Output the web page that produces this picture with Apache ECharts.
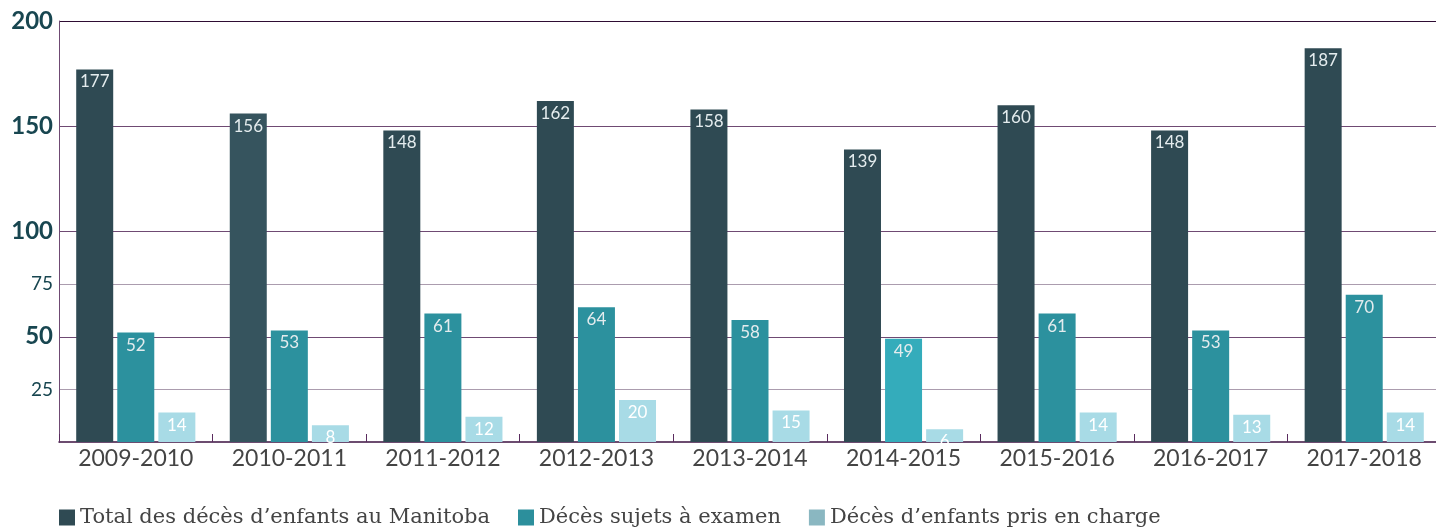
<!DOCTYPE html>
<html>
<head>
<meta charset="utf-8">
<script src="https://cdn.jsdelivr.net/npm/echarts@6/dist/echarts.min.js"></script>
<style>
  html, body { margin: 0; padding: 0; background: #fff; }
  #chart { width: 1436px; height: 529px; }
</style>
</head>
<body>
<div id="chart"></div>
<script>
// données
var years = ['2009-2010', '2010-2011', '2011-2012', '2012-2013', '2013-2014', '2014-2015', '2015-2016', '2016-2017', '2017-2018'];
var seriesNames = ['Total des décès d\u2019enfants au Manitoba', 'Décès sujets à examen', 'Décès d\u2019enfants pris en charge'];
var totalDeces = [177, 156, 148, 162, 158, 139, 160, 148, 187];
var decesExamen = [52, 53, 61, 64, 58, 49, 61, 53, 70];
var decesPrisEnCharge = [14, 8, 12, 20, 15, 6, 14, 13, 14];
var bigTicks = [50, 100, 150, 200];
var smallTicks = [25, 75];

var chart = echarts.init(document.getElementById('chart'));

// quelques barres ont une teinte un peu différente
function withColors(values, overrides) {
  return values.map(function (v, i) {
    return overrides[i] ? { value: v, itemStyle: { color: overrides[i] } } : v;
  });
}

var major = '#6f4a73', minor = '#ab9cae';

var labelStyle = {
  show: true,
  position: 'insideTop',
  distance: 4,
  fontFamily: 'Lato',
  fontSize: 17,
  color: '#e4ecee'
};

var option = {
  animation: false,
  // la zone de tracé déborde un peu à droite de l'image
  grid: { left: 59, width: 1382, top: 21, bottom: 87, containLabel: false, outerBoundsMode: 'none' },
  legend: {
    left: 54,
    bottom: -4,
    icon: 'rect',
    itemWidth: 16,
    itemHeight: 16,
    itemGap: 28,
    textStyle: { fontFamily: 'DejaVu Serif', fontSize: 21, color: '#444' },
    data: [
      { name: seriesNames[0], itemStyle: { color: '#2f4a53' } },
      { name: seriesNames[1], itemStyle: { color: '#2c8f9c' } },
      { name: seriesNames[2], itemStyle: { color: '#8ab7c1' } }
    ]
  },
  xAxis: {
    type: 'category',
    data: years,
    axisLine: { show: true, lineStyle: { color: '#3d1242', width: 1.5 } },
    axisTick: { show: true, inside: true, length: 8, lineStyle: { color: '#5a2c5e' } },
    axisLabel: { fontFamily: 'Lato', fontSize: 23, color: '#444', margin: 5 }
  },
  yAxis: {
    type: 'value',
    min: 0,
    max: 200,
    interval: 25,
    axisLine: { show: true, lineStyle: { color: '#6f4a73' } },
    axisTick: { show: false },
    splitLine: {
      show: true,
      lineStyle: {
        width: 1.2,
        color: ['rgba(0,0,0,0)', minor, major, minor, major, 'rgba(0,0,0,0)', major, 'rgba(0,0,0,0)', '#2e0c33']
      }
    },
    axisLabel: {
      margin: 6,
      formatter: function (v) {
        if (bigTicks.indexOf(v) >= 0) return '{b|' + v + '}';
        if (smallTicks.indexOf(v) >= 0) return '{s|' + v + '}';
        return '';
      },
      rich: {
        b: { fontFamily: 'Lato', fontWeight: 'bold', fontSize: 24, color: '#184650' },
        s: { fontFamily: 'Lato', fontSize: 19, color: '#184650' }
      }
    }
  },
  series: [
    {
      name: seriesNames[0],
      type: 'bar',
      barWidth: 37,
      barGap: '11%',
      itemStyle: { color: '#2f4a53' },
      label: labelStyle,
      data: withColors(totalDeces, { 1: '#36545e' })
    },
    {
      name: seriesNames[1],
      type: 'bar',
      barWidth: 37,
      barGap: '11%',
      itemStyle: { color: '#2c919e' },
      label: labelStyle,
      data: withColors(decesExamen, { 5: '#34acbb' })
    },
    {
      name: seriesNames[2],
      type: 'bar',
      barWidth: 37,
      barGap: '11%',
      itemStyle: { color: '#a8dbe6' },
      label: Object.assign({}, labelStyle, { color: '#ffffff' }),
      data: decesPrisEnCharge
    }
  ]
};

chart.setOption(option);
</script>
</body>
</html>
